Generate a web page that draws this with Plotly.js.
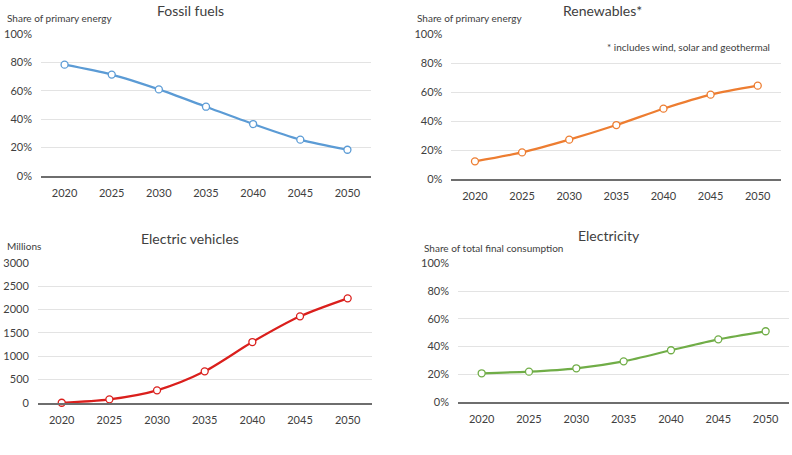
<!DOCTYPE html>
<html>
<head>
<meta charset="utf-8">
<script src="https://cdn.plot.ly/plotly-3.0.1.min.js"></script>
<style>html,body{margin:0;padding:0;background:#fff}#chart{width:792px;height:455px}</style>
</head>
<body>
<div id="chart"></div>
<script>
const years = ['2020', '2025', '2030', '2035', '2040', '2045', '2050'];
const fossil = [0.784, 0.714, 0.61, 0.488, 0.366, 0.256, 0.185];
const renewables = [0.122, 0.184, 0.272, 0.373, 0.486, 0.583, 0.645];
const evMillions = [5, 78, 271, 677, 1304, 1853, 2238];
const electricity = [0.207, 0.219, 0.243, 0.293, 0.373, 0.452, 0.51];

const FONT = 'Lato, "Open Sans", sans-serif';
const W = 792, H = 455;
function dx(a, b) { return [a / W, b / W]; }
function dy(top, bottom) { return [1 - bottom / H, 1 - top / H]; }

function trace(y, color, xa, ya) {
  return {
    x: years, y: y, xaxis: xa, yaxis: ya, type: 'scatter', mode: 'lines+markers',
    line: {color: color, width: 2.2, shape: 'spline', smoothing: 0.8},
    marker: {symbol: 'circle', size: 7, color: '#ffffff', line: {color: color, width: 1.3}},
    cliponaxis: false, hoverinfo: 'skip'
  };
}

const data = [
  trace(fossil, '#5B9BD5', 'x', 'y'),
  trace(renewables, '#ED7D31', 'x2', 'y2'),
  trace(evMillions, '#DA1F1C', 'x3', 'y3'),
  trace(electricity, '#70AD47', 'x4', 'y4')
];

function xax(domain, anchor) {
  return {
    domain: domain, anchor: anchor, type: 'category', range: [-0.5, 6.5],
    showgrid: false, showline: true, linecolor: '#6e6e6e', linewidth: 1.5,
    ticks: '', zeroline: false, fixedrange: true,
    tickfont: {family: FONT, size: 11, color: '#404040'}, ticklabelstandoff: 6
  };
}
function yax(domain, anchor, range, dtick, fmt) {
  return {
    domain: domain, anchor: anchor, range: range, dtick: dtick, tick0: 0,
    tickformat: fmt, showgrid: true, gridcolor: '#e3e3e3', gridwidth: 1,
    showline: false, zeroline: false, ticks: '', fixedrange: true,
    tickfont: {family: FONT, size: 11, color: '#404040'}, ticklabelstandoff: 8
  };
}

const layout = {
  width: W, height: H, margin: {l: 0, r: 0, t: 0, b: 0},
  paper_bgcolor: '#ffffff', plot_bgcolor: 'rgba(0,0,0,0)', showlegend: false,
  font: {family: FONT, color: '#404040'},
  xaxis: xax(dx(41, 371), 'y'),
  yaxis: yax(dy(34, 176), 'x', [0, 1.0001], 0.2, '.0%'),
  xaxis2: xax(dx(451.4, 781.3), 'y2'),
  yaxis2: yax(dy(34.3, 179), 'x2', [0, 1.0001], 0.2, '.0%'),
  xaxis3: xax(dx(37.9, 371.5), 'y3'),
  yaxis3: yax(dy(262.7, 403), 'x3', [0, 3000.5], 500, 'd'),
  xaxis4: xax(dx(458, 789.3), 'y4'),
  yaxis4: yax(dy(263.3, 402), 'x4', [0, 1.0001], 0.2, '.0%'),
  annotations: [
    {text: 'Fossil fuels', x: 190 / W, y: 1 - 10 / H, font: {size: 14}},
    {text: 'Share of primary energy', x: 5 / W, y: 1 - 18 / H, xanchor: 'left', font: {size: 10}},
    {text: 'Renewables*', x: 602 / W, y: 1 - 10 / H, font: {size: 14}},
    {text: 'Share of primary energy', x: 415 / W, y: 1 - 18 / H, xanchor: 'left', font: {size: 10}},
    {text: '* includes wind, solar and geothermal', x: 772 / W, y: 1 - 47 / H, xanchor: 'right', font: {size: 10}},
    {text: 'Electric vehicles', x: 190 / W, y: 1 - 238 / H, font: {size: 14}},
    {text: 'Millions', x: 5 / W, y: 1 - 246 / H, xanchor: 'left', font: {size: 10}},
    {text: 'Electricity', x: 609 / W, y: 1 - 235 / H, font: {size: 14}},
    {text: 'Share of total final consumption', x: 421.7 / W, y: 1 - 247.7 / H, xanchor: 'left', font: {size: 10}}
  ].map(a => Object.assign({xref: 'paper', yref: 'paper', showarrow: false, yanchor: 'middle', xanchor: 'center'}, a, {font: Object.assign({family: FONT, color: '#404040'}, a.font)}))
};

Plotly.newPlot('chart', data, layout, {staticPlot: true, displayModeBar: false});
</script>
</body>
</html>
